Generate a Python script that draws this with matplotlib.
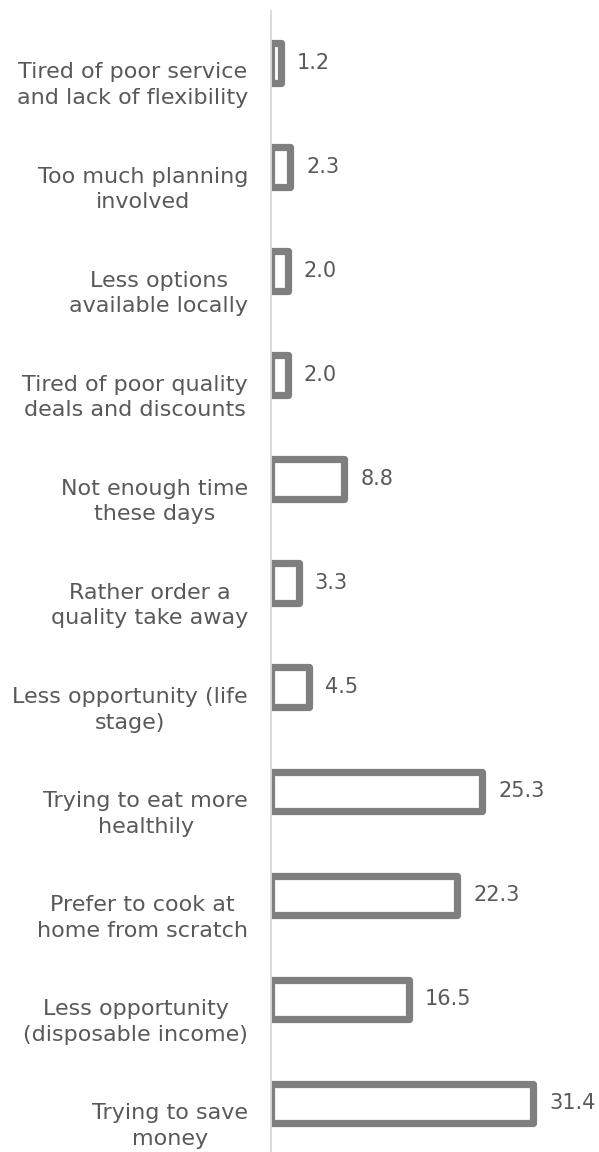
import matplotlib.pyplot as plt
import matplotlib.transforms as mtransforms
import numpy as np

plt.rcParams['font.family'] = ['DejaVu Sans']

categories = [
    'Tired of poor service\nand lack of flexibility',
    'Too much planning\ninvolved',
    'Less options\navailable locally',
    'Tired of poor quality\ndeals and discounts',
    'Not enough time\nthese days',
    'Rather order a\nquality take away',
    'Less opportunity (life\nstage)',
    'Trying to eat more\nhealthily',
    'Prefer to cook at\nhome from scratch',
    'Less opportunity\n(disposable income)',
    'Trying to save\nmoney',
]
values = [1.2, 2.3, 2.0, 2.0, 8.8, 3.3, 4.5, 25.3, 22.3, 16.5, 31.4]

text_color = '#595959'
bar_edge = '#7f7f7f'

fig = plt.figure(figsize=(5.99, 11.52), dpi=100)
ax = fig.add_axes([0.4524, -0.003, 0.5476, 0.9935])

y = np.arange(len(values))
bars = ax.barh(y, values, height=0.38, color='white', edgecolor=bar_edge,
               linewidth=5.2, joinstyle='round')

for yi, v in zip(y, values):
    ax.annotate(f'{v:.1f}', xy=(v, yi), xytext=(11.5, 0), textcoords='offset points',
                va='center', ha='left', fontsize=15, color=text_color)

ax.set_yticks(y)
ax.set_yticklabels(categories, fontsize=16, color=text_color,
                   multialignment='center', linespacing=1.36)
ax.tick_params(axis='y', length=0, pad=16.5)
# category labels sit a little below the bar centres
shift = mtransforms.ScaledTranslation(0, -0.175, fig.dpi_scale_trans)
for lab in ax.get_yticklabels():
    lab.set_transform(lab.get_transform() + shift)
ax.set_xticks([])
ax.set_ylim(len(values) - 0.5, -0.5)
ax.set_xlim(0, 39.3)

for s in ['top', 'right', 'bottom']:
    ax.spines[s].set_visible(False)
ax.spines['left'].set_color('#d9d9d9')
ax.spines['left'].set_linewidth(1.3)

fig.savefig('out.png', dpi=100)
